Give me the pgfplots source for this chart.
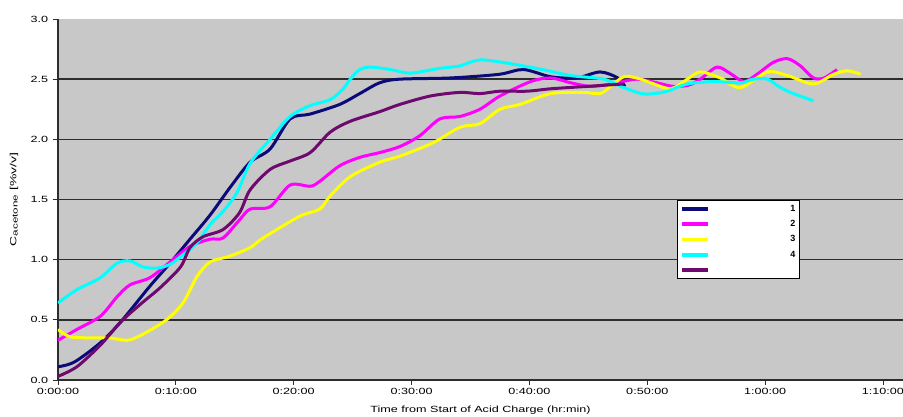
\documentclass[border=0pt]{standalone}
\usepackage{fontspec}
\setmainfont{Liberation Sans}
\usepackage{pgfplots}
\pgfplotsset{compat=1.18}

\definecolor{plotbg}{RGB}{200,200,200}
\definecolor{gridc}{RGB}{45,45,45}
\definecolor{cOne}{RGB}{10,10,120}
\definecolor{cTwo}{RGB}{255,0,255}
\definecolor{cThree}{RGB}{255,255,0}
\definecolor{cFour}{RGB}{0,255,255}
\definecolor{cFive}{RGB}{110,10,110}

\newcommand{\lab}{\fontsize{9}{10}\selectfont}

\begin{document}
\begin{tikzpicture}
\begin{axis}[
  at={(0,0)}, anchor=south west,
  scale only axis, width=845pt, height=361pt,
  xmin=0, xmax=71.7, ymin=0, ymax=3,
  axis background/.style={fill=plotbg},
  axis x line*=bottom, axis y line*=left,
  axis line style={gridc, line width=1.2pt},
  xtick={0,10,20,30,40,50,60,70},
  xticklabels={0:00:00,0:10:00,0:20:00,0:30:00,0:40:00,0:50:00,1:00:00,1:10:00},
  ytick={0,3}, yticklabels={0.0,3.0},
  extra y ticks={0.5,1,1.5,2,2.5},
  extra y tick labels={0.5,1.0,1.5,2.0,2.5},
  extra y tick style={grid=major},
  major grid style={gridc, line width=1.6pt},
  tick style={gridc, line width=0.8pt},
  tick align=outside, major tick length=5pt,
  tick label style={font=\lab, xscale=1.4},
  xlabel={Time from Start of Acid Charge (hr:min)},
  ylabel={C\raisebox{-1.2pt}{\fontsize{7.5}{8}\selectfont acetone} [\%v/v]},
  xlabel style={font=\lab, xscale=1.4, at={(rel axis cs:0.5,-0.083)}, anchor=center},
  ylabel style={font=\lab, at={(rel axis cs:-0.052,0.5)}, anchor=center, xscale=1.55},
  legend style={at={(0.7325,0.4986)}, anchor=north west, draw=black,
    line width=1pt, fill=white, inner sep=3pt, row sep=4.2pt,
    font=\lab\bfseries, nodes={inner sep=1pt, text height=7pt, text depth=2pt}},
  legend image code/.code={\draw[#1, line width=3.8pt] (0pt,0pt) -- (26pt,0pt);},
  every axis plot/.append style={line width=3pt, smooth, tension=0.5},
]
% series 1
\addplot[cOne] coordinates {
(0,0.11) (1.4,0.15) (3.6,0.31) (5.3,0.48) (7.8,0.78) (9.5,0.97) (11.2,1.17)
(12.9,1.37) (14.6,1.60) (16.3,1.81) (18,1.92) (19.7,2.17) (21.4,2.21)
(23.9,2.29) (25.6,2.38) (27.3,2.47) (29,2.50) (33.3,2.51) (37.4,2.54)
(39.5,2.58) (41.8,2.52) (44,2.51) (46,2.56) (47.5,2.51) (48.1,2.44)};
\addlegendentry{\makebox[84pt][r]{1}}
% series 2
\addplot[cTwo] coordinates {
(0,0.33) (1.6,0.42) (3.6,0.53) (5,0.69) (6.1,0.79) (7.8,0.85) (9.5,0.98)
(11.2,1.11) (12.9,1.17) (14,1.18) (15.4,1.33) (16.3,1.42) (18,1.44)
(19.7,1.62) (21.4,1.61) (22.2,1.65) (23.9,1.78) (25.6,1.85) (27.3,1.89)
(29,1.94) (30.7,2.03) (32.4,2.17) (34.1,2.19) (35.8,2.25) (37.5,2.36)
(40.1,2.48) (41.8,2.51) (43.5,2.47) (45.2,2.44) (46.9,2.46) (49.1,2.50)
(50.8,2.47) (52.2,2.44) (53.5,2.45) (54.5,2.50) (55.9,2.60) (57,2.55)
(58.2,2.48) (59.3,2.54) (60.7,2.64) (61.9,2.67) (63,2.61) (64.1,2.51)
(65,2.51) (66.1,2.58)};
\addlegendentry{\makebox[84pt][r]{2}}
% series 3
\addplot[cThree] coordinates {
(0,0.42) (1.0,0.36) (2.7,0.35) (4.4,0.35) (5.9,0.33) (7.2,0.38) (9.2,0.50)
(10.6,0.64) (11.8,0.86) (12.9,0.98) (14.6,1.03) (16.3,1.10) (17.4,1.18)
(20.5,1.36) (22.2,1.42) (23.1,1.53) (24.8,1.69) (27.3,1.81) (29,1.86)
(31.8,1.97) (34.1,2.10) (35.8,2.13) (37.5,2.25) (39.2,2.29) (41.8,2.38)
(44.6,2.39) (46,2.38) (46.9,2.44) (48,2.52) (49.1,2.51) (50.3,2.47)
(52,2.42) (53.4,2.50) (54.5,2.56) (56.2,2.51) (57.9,2.43) (60.2,2.56)
(61.9,2.53) (64.1,2.46) (65.8,2.54) (67,2.57) (68.1,2.54)};
\addlegendentry{\makebox[84pt][r]{3}}
% series 4
\addplot[cFour] coordinates {
(0,0.64) (1.6,0.75) (3.6,0.85) (5,0.97) (6.1,0.99) (7.2,0.94) (8.4,0.93)
(9.5,0.96) (10.6,1.04) (11.8,1.14) (12.9,1.29) (14,1.40) (15.2,1.56)
(16.3,1.80) (18,2.00) (19.7,2.19) (21.4,2.28) (23.1,2.33) (24.2,2.42)
(24.8,2.50) (25.6,2.58) (26.5,2.60) (28.2,2.58) (29.9,2.55) (32.4,2.59)
(34.1,2.61) (35.8,2.66) (38.3,2.63) (41.1,2.58) (43.5,2.53) (46.3,2.50)
(48,2.43) (49.5,2.38) (50.6,2.38) (51.7,2.40) (53.4,2.46) (55.6,2.48)
(57.9,2.47) (59,2.50) (60.2,2.50) (61.3,2.43) (62.4,2.38) (64.1,2.32)};
\addlegendentry{\makebox[84pt][r]{4}}
% series 5
\addplot[cFive] coordinates {
(0,0.03) (1.6,0.11) (3.6,0.29) (5.3,0.48) (7,0.63) (8.7,0.77) (10.4,0.94)
(11.2,1.10) (12.3,1.19) (14,1.25) (15.4,1.39) (16.3,1.58) (18,1.75)
(19.7,1.82) (21.4,1.89) (23.1,2.06) (24.8,2.15) (27.3,2.23) (29,2.29)
(31.6,2.36) (34.1,2.39) (35.8,2.38) (37.5,2.40) (39.8,2.40) (41.8,2.42)
(44.9,2.44) (48,2.46)};
\addlegendentry{\makebox[84pt][r]{\strut}}
\end{axis}
\pgfresetboundingbox
\path[use as bounding box] (-58pt,-37pt) rectangle (845pt,380pt);
\end{tikzpicture}
\end{document}
